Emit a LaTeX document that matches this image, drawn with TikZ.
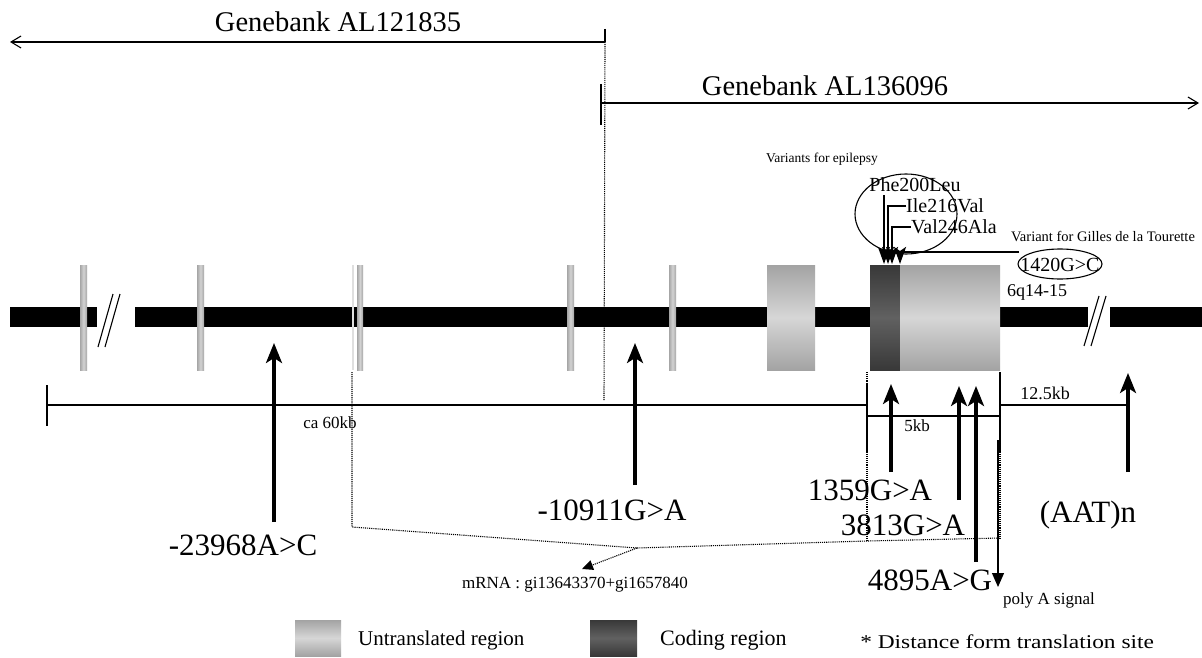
\documentclass[tikz,border=0pt]{standalone}
\usepackage{fontspec}
\setmainfont{Liberation Serif}
\usetikzlibrary{arrows.meta,shapes.geometric}
\begin{document}
\begin{tikzpicture}[x=1pt,y=-1pt,
  big/.style={inner sep=0pt,anchor=base,font=\fontsize{31}{32}\selectfont},
  gb/.style={inner sep=0pt,anchor=base,font=\fontsize{28.5}{30}\selectfont},
  mid/.style={inner sep=0pt,anchor=base,font=\fontsize{20}{22}\selectfont},
  sml/.style={inner sep=0pt,anchor=base,font=\fontsize{17}{19}\selectfont},
  tiny/.style={inner sep=0pt,anchor=base,font=\fontsize{14}{16}\selectfont},
  snp/.style={line width=3.2pt,-{Stealth[length=20pt,width=16pt,inset=5pt]}},
  varr/.style={line width=2.6pt,-{Stealth[length=17pt,width=12pt,inset=4pt]}},
  ln/.style={line width=1.1pt},
  dots/.style={densely dotted,line width=1.1pt},
  utr/.style={top color=gray!72,bottom color=gray!72,middle color=gray!32},
  cds/.style={top color=black!78,bottom color=black!78,middle color=black!62},
  thinex/.style={left color=gray!70,right color=gray!70,middle color=gray!35},
]
\fill[white] (0,0) rectangle (1202,658);
\useasboundingbox (0,0) rectangle (1202,658);

% Genebank arrows
\node[gb] (gb1) at (338,32) {Genebank AL121835};
\coordinate (a1s) at (605,42);
\coordinate (a1e) at (10,42);
\draw[ln,-{Straight Barb[length=10pt,width=12pt]}] (a1s) -- (a1e);
\coordinate (t1a) at (605,29);
\draw[ln] (t1a) -- (a1s);
\coordinate (dv1) at (604,400);
\draw[dots] (a1s) -- (dv1);

\node[gb] (gb2) at (825,96) {Genebank AL136096};
\coordinate (a2s) at (601,103);
\coordinate (a2e) at (1199,103);
\draw[ln,-{Straight Barb[length=10pt,width=12pt]}] (a2s) -- (a2e);
\coordinate (t2a) at (601,84);
\coordinate (t2b) at (601,125);
\draw[ln] (t2a) -- (t2b);

% gene bar
\fill[black] (10,307) rectangle (97,327);
\fill[black] (135,307) rectangle (1088,327);
\fill[black] (1110,307) rectangle (1202,327);
% breaks
\draw[ln] (98,347) -- (113,294);
\draw[ln] (105,347) -- (120,294);
\draw[ln] (1084,346) -- (1099,296);
\draw[ln] (1091,346) -- (1106,296);

% exons
\shade[thinex] (80,265) rectangle (87,370);
\shade[thinex] (197,265) rectangle (204,370);
\fill[gray!25] (351.5,265) rectangle (353.5,370);
\shade[thinex] (357,265) rectangle (363,370);
\shade[thinex] (567,265) rectangle (574,370);
\shade[thinex] (669,265) rectangle (676,370);
\shade[utr] (767,265) rectangle (815,370);
\shade[cds] (870,265) rectangle (900,370);
\shade[utr] (900,265) rectangle (1000,370);
\node[mid,font=\fontsize{18}{20}\selectfont] (chr) at (1037,296) {6q14-15};

% epilepsy variants
\node[tiny,font=\fontsize{13.5}{15}\selectfont] (vep) at (822,162) {Variants for epilepsy};
\node[draw,ellipse,line width=1.1pt,minimum width=102pt,minimum height=80pt] (epe) at (906,214) {};
\node[mid] (phe) at (915,191) {Phe200Leu};
\node[mid,anchor=base west] (ile) at (906,212) {Ile216Val};
\node[mid,anchor=base west] (val) at (911,233) {Val246Ala};
\coordinate (pheS) at (884,195);
\coordinate (pheT) at (884,264);
\coordinate (ileT) at (888,264);
\coordinate (valT) at (892,264);
\coordinate (ileL) at (906,206);
\coordinate (valL) at (911,227);
\draw[varr] (pheS) -- (pheT);
\draw[varr] (ileL) -| (ileT);
\draw[varr] (valL) -| (valT);

\node[tiny,font=\fontsize{14.5}{16}\selectfont] (vgt) at (1103,241) {Variant for Gilles de la Tourette};
\node[draw,ellipse,line width=1.1pt,minimum width=84pt,minimum height=30pt,inner sep=0pt] (gte) at (1060,264) {};
\node[mid] (g1420) at (1060,271) {1420G>C};
\coordinate (gL) at (1019,252);
\coordinate (gT) at (900,264);
\draw[varr] (gL) -| (gT);

% scale lines
\coordinate (s0a) at (47,385);
\coordinate (s0b) at (47,426);
\draw[ln] (s0a) -- (s0b);
\coordinate (s60l) at (47,405);
\coordinate (s60r) at (867,405);
\draw[ln] (s60l) -- (s60r);
\node[sml] (ca) at (330,428) {ca 60kb};
\coordinate (s1a) at (867,384);
\coordinate (s1b) at (867,452);
\draw[line width=1.6pt] (s1a) -- (s1b);
\coordinate (s2a) at (1000,372);
\coordinate (s2b) at (1000,452);
\draw[line width=1.4pt] (s2a) -- (s2b);
\coordinate (k5l) at (867,416);
\coordinate (k5r) at (1000,416);
\draw[ln] (k5l) -- (k5r);
\node[sml] (k5) at (917,431) {5kb};
\coordinate (k12l) at (1001,405);
\coordinate (k12r) at (1128,405);
\draw[ln] (k12l) -- (k12r);
\node[sml,font=\fontsize{18}{20}\selectfont] (k12) at (1045,399) {12.5kb};

% mRNA dotted bracket
\coordinate (m1) at (352,372);
\coordinate (m2) at (352,527);
\coordinate (m3) at (637,548);
\coordinate (m4) at (867,541);
\coordinate (m5) at (1000,538);
\coordinate (m6) at (867,372);
\coordinate (m7) at (1000,372);
\draw[dots] (m1) -- (m2) -- (m3) -- (m4) -- (m5);
\draw[dots] (m6) -- (m4);
\draw[dots] (m7) -- (m5);
\node[sml] (mrna) at (575,588) {mRNA : gi13643370+gi1657840};
\coordinate (mT) at (582,569);
\draw[dots,-{Triangle[length=11pt,width=10pt]}] (m3) -- (mT);

% SNP arrows
\node[big] (v1) at (243,555) {-23968A>C};
\coordinate (v1b) at (274,522);
\coordinate (v1t) at (274,343);
\draw[snp] (v1b) -- (v1t);
\node[big] (v2) at (612,520) {-10911G>A};
\coordinate (v2b) at (635,485);
\coordinate (v2t) at (635,343);
\draw[snp] (v2b) -- (v2t);
\node[big] (v3) at (870,500) {1359G>A};
\coordinate (v3b) at (891,472);
\coordinate (v3t) at (891,384);
\draw[snp] (v3b) -- (v3t);
\node[big] (v4) at (903,535) {3813G>A};
\coordinate (v4b) at (959,500);
\coordinate (v4t) at (959,386);
\draw[snp] (v4b) -- (v4t);
\node[big] (v5) at (930,590) {4895A>G};
\coordinate (v5b) at (976,562);
\coordinate (v5t) at (976,386);
\draw[snp] (v5b) -- (v5t);
\node[big] (v6) at (1088,522) {(AAT)n};
\coordinate (v6b) at (1128,472);
\coordinate (v6t) at (1128,373);
\draw[snp] (v6b) -- (v6t);

% poly A
\coordinate (pa1) at (998,440);
\coordinate (pa2) at (998,587);
\draw[line width=1.2pt,-{Triangle[length=14pt,width=12pt]}] (pa1) -- (pa2);
\node[sml] (pas) at (1049,604) {poly A signal};

% legend
\shade[utr] (295,620) rectangle (341,656);
\node[mid,anchor=base west,font=\fontsize{21}{24}\selectfont] (lu) at (358,645) {Untranslated region};
\shade[cds] (590,620) rectangle (637,656);
\node[mid,anchor=base west,font=\fontsize{22}{24}\selectfont] (lc) at (660,645) {Coding region};
\node[sml,anchor=base west,font=\fontsize{19.5}{20}\selectfont,xscale=1.2] (ld) at (860,648) {* Distance form translation site};
\end{tikzpicture}
\end{document}
